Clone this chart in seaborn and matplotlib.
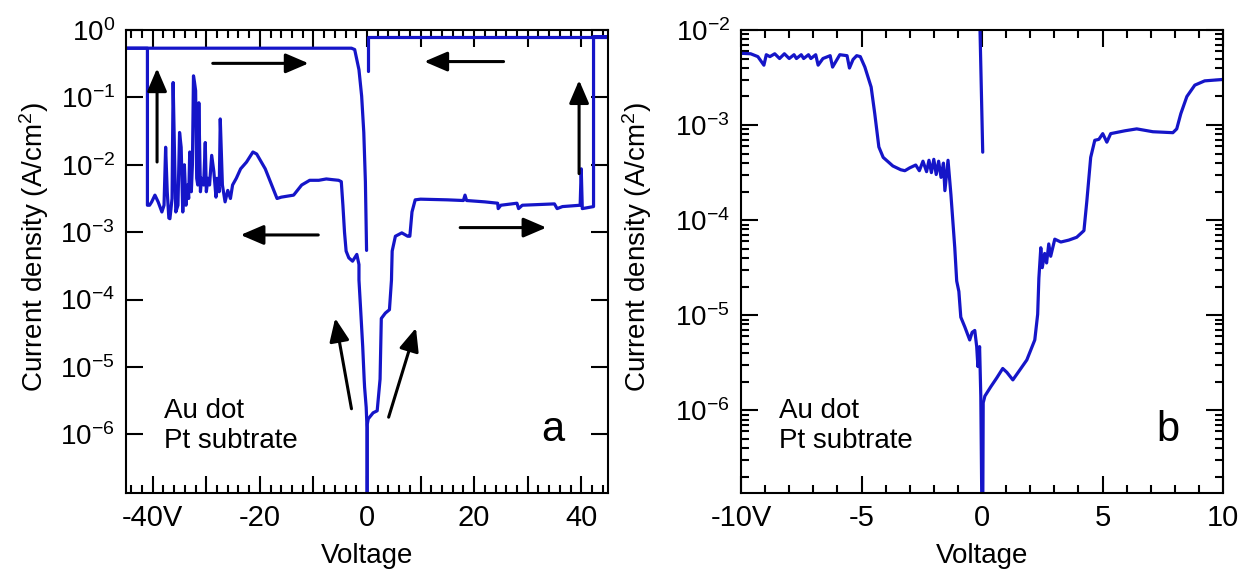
import numpy as np
import pandas as pd
import seaborn as sns
import matplotlib
matplotlib.use('Agg')
import matplotlib.pyplot as plt
from matplotlib.ticker import MultipleLocator, FixedLocator, FuncFormatter, NullLocator, LogLocator

# Panel a: voltage (V) and log10 of current density (A/cm^2)
a_neg_v = [0.0, 0.0, -0.15, -0.45, -0.53, -0.8, -1.15, -1.5, -1.5, -1.9, -2.7, -3.4, -3.9, -4.2, -4.5, -4.8,
           -5.3, -6.5, -7.6, -9.0, -10.7, -12.2, -13.7, -16.0, -16.8, -17.5, -19.0, -20.6, -21.3, -22.5, -23.6,
           -24.4, -25.1, -25.5, -26.0, -26.5, -27.0, -27.4, -27.6, -28.0, -28.2, -28.6, -29.0, -29.4, -29.7,
           -30.0, -30.2, -30.5, -30.9, -31.1, -31.4, -31.6, -31.8, -32.0, -32.2, -32.4, -32.6, -32.8, -33.1,
           -33.3, -33.5, -33.8, -34.1, -34.4, -34.7, -35.0, -35.3, -35.7, -35.9, -36.2, -36.4, -36.8, -37.0,
           -37.3, -37.6, -37.9, -38.3, -39.0, -39.6, -40.2, -40.6, -41.0, -41.0, -46.0]
a_neg_logj = [-7.2, -5.9, -5.6, -5.3, -5.18, -4.7, -4.2, -3.71, -3.48, -3.33, -3.43, -3.38, -3.28, -3.0, -2.6, -2.25,
              -2.23, -2.22, -2.21, -2.23, -2.23, -2.30, -2.45, -2.48, -2.50, -2.36, -2.06, -1.84, -1.81, -1.96, -2.06,
              -2.2, -2.30, -2.50, -2.38, -2.55, -2.3, -1.32, -2.4, -2.2, -2.48, -2.1, -1.86, -2.3, -2.2,
              -2.4, -1.67, -2.3, -2.2, -2.4, -1.08, -2.3, -2.2, -0.9, -0.78, -0.68, -2.0, -2.4, -1.81,
              -2.5, -2.3, -2.6, -2.0, -2.7, -1.74, -1.52, -2.6, -2.7, -2.0, -0.78, -2.5, -2.8, -2.79,
              -2.4, -1.74, -2.6, -2.7, -2.55, -2.45, -2.55, -2.6, -2.6, -0.27, -0.27]
a_ret_v = [-46.0, -2.9, -2.3, -1.5, -1.0, -0.6, -0.3, -0.08]
a_ret_logj = [-0.27, -0.27, -0.29, -0.59, -0.98, -1.52, -2.25, -3.27]
a_pos_v = [0.05, 0.05, 0.23, 1.14, 1.9, 2.44, 2.67, 3.43, 4.19, 4.57, 4.6, 4.7, 5.3, 6.5, 7.6, 8.0, 8.4, 9.0,
           10.0, 15.0, 18.0, 18.3, 18.6, 22.0, 24.4, 24.5, 25.0, 28.0, 28.3, 29.0, 35.0, 35.5, 36.5, 39.8,
           40.0, 40.2, 42.3, 42.3, 46.0]
a_pos_logj = [-7.2, -5.85, -5.77, -5.68, -5.65, -5.18, -4.28, -4.2, -4.15, -3.71, -3.6, -3.28, -3.06, -3.01,
              -3.06, -3.06, -2.70, -2.52, -2.51, -2.52, -2.53, -2.45, -2.53, -2.55, -2.57, -2.65, -2.60, -2.57,
              -2.65, -2.60, -2.58, -2.65, -2.62, -2.60, -2.06, -2.65, -2.62, -0.098, -0.098]
a_back_v = [46.0, 0.2, 0.2]
a_back_logj = [-0.098, -0.098, -0.61]

# Panel b
b_neg_v = [0.0, -0.05, -0.1, -0.17, -0.22, -0.3, -0.41, -0.51, -0.71, -0.88, -0.96, -1.05, -1.13, -1.29, -1.41,
           -1.54, -1.6, -1.7, -1.8, -1.9, -2.0, -2.1, -2.2, -2.3, -2.45, -2.6, -2.75, -3.0, -3.2, -3.37, -3.7,
           -4.1, -4.28, -4.45, -4.6, -4.86, -5.05, -5.2, -5.35, -5.5, -5.6, -5.9, -6.2, -6.3, -6.6, -6.8, -6.9,
           -7.1, -7.2, -7.4, -7.5, -7.7, -7.8, -8.0, -8.2, -8.4, -8.6, -8.8, -8.95, -9.05, -9.3, -9.6, -10.0]
b_neg_logj = [-7.2, -5.85, -5.33, -5.54, -5.33, -5.16, -5.18, -5.26, -5.125, -5.02, -4.75, -4.64, -4.29, -3.73,
              -3.37, -3.69, -3.40, -3.55, -3.38, -3.52, -3.36, -3.50, -3.37, -3.49, -3.38, -3.48, -3.42, -3.45,
              -3.48, -3.47, -3.43, -3.34, -3.23, -2.88, -2.60, -2.39, -2.28, -2.27, -2.31, -2.40, -2.27, -2.26,
              -2.39, -2.27, -2.30, -2.37, -2.26, -2.30, -2.26, -2.30, -2.26, -2.30, -2.26, -2.30, -2.25, -2.30,
              -2.25, -2.28, -2.26, -2.37, -2.28, -2.25, -2.245]
b_pos_v = [0.03, 0.05, 0.12, 0.37, 0.61, 0.86, 1.03, 1.28, 1.53, 1.86, 2.19, 2.31, 2.36, 2.44, 2.5, 2.6, 2.68,
           2.77, 2.85, 3.02, 3.27, 3.6, 3.93, 4.23, 4.35, 4.51, 4.68, 4.85, 5.01, 5.18, 5.34, 5.93, 6.42, 7.09,
           7.92, 8.08, 8.25, 8.5, 8.83, 9.24, 10.0]
b_pos_logj = [-7.2, -5.92, -5.85, -5.75, -5.66, -5.56, -5.60, -5.68, -5.59, -5.47, -5.26, -4.99, -4.61, -4.29,
              -4.50, -4.35, -4.45, -4.25, -4.38, -4.20, -4.23, -4.21, -4.18, -4.11, -3.80, -3.34, -3.16, -3.15,
              -3.09, -3.18, -3.09, -3.06, -3.04, -3.07, -3.08, -3.04, -2.88, -2.70, -2.58, -2.535, -2.52]
b_top_v = [-0.1, 0.03]
b_top_logj = [-1.8, -3.285]

# arrows in panel a: (tail V, tail J, head V, head J)
a_arrows = [(-39.2, 0.011, -39.2, 0.27), (-28.8, 0.32, -10.9, 0.32), (25.5, 0.34, 10.7, 0.34),
            (39.6, 7.4e-3, 39.6, 0.18), (-9.1, 9.1e-4, -23.6, 9.1e-4), (17.4, 1.17e-3, 33.5, 1.17e-3),
            (-2.9, 2.4e-6, -5.94, 5.3e-5), (4.04, 1.8e-6, 9.14, 3.8e-5)]

BLUE = '#1515c8'

sns.set_style('ticks')
plt.rcParams['font.family'] = ['Liberation Sans', 'DejaVu Sans']
plt.rcParams['mathtext.fontset'] = 'custom'
plt.rcParams['mathtext.rm'] = 'Liberation Sans'
plt.rcParams['mathtext.it'] = 'Liberation Sans:italic'
plt.rcParams['mathtext.default'] = 'regular'
plt.rcParams['axes.linewidth'] = 1.5
for key in ['text.color', 'axes.labelcolor', 'xtick.color', 'ytick.color', 'axes.edgecolor']:
    plt.rcParams[key] = 'black'


def make_frame(pairs):
    parts = []
    for i, (v, lj) in enumerate(pairs):
        parts.append(pd.DataFrame({'V': v, 'J': 10.0 ** np.array(lj), 'seg': i}))
    return pd.concat(parts, ignore_index=True)


def style_axis(ax, xlim, ylim, first_label, xmajor, xminor, label_step, ylog_minor):
    ax.set_yscale('log')
    ax.set_xlim(*xlim)
    ax.set_ylim(*ylim)
    ax.xaxis.set_major_locator(MultipleLocator(xmajor))
    ax.xaxis.set_minor_locator(MultipleLocator(xminor))

    def xfmt(v, pos):
        iv = int(round(v))
        if iv % label_step:
            return ''
        if iv == first_label:
            return f'{iv}V'
        return f'{iv}'
    ax.xaxis.set_major_formatter(FuncFormatter(xfmt))
    decades = [10.0 ** k for k in range(-6, 1) if ylim[0] <= 10.0 ** k <= ylim[1]]
    ax.yaxis.set_major_locator(FixedLocator(decades))
    ax.yaxis.set_major_formatter(FuncFormatter(lambda y, p: r'$10^{%d}$' % int(round(np.log10(y)))))
    if ylog_minor:
        ax.yaxis.set_minor_locator(LogLocator(base=10, subs=np.arange(2, 10), numticks=20))
    else:
        ax.yaxis.set_minor_locator(NullLocator())
    ax.tick_params(which='both', direction='in', top=True, right=True, width=1.5, pad=8)
    ax.tick_params(axis='x', labelsize=21)
    ax.tick_params(axis='y', labelsize=20)
    ax.tick_params(which='major', length=12)
    ax.tick_params(which='minor', length=6)
    ax.set_xlabel('Voltage', fontsize=20, labelpad=8)
    ax.set_ylabel('Current density (A/cm$^2$)', fontsize=20)
    for s in ax.spines.values():
        s.set_linewidth(1.5)


fig = plt.figure(figsize=(12.48, 5.76), dpi=100)
ax_a = fig.add_axes([126 / 1248, 83 / 576, 482 / 1248, 463 / 576])
ax_b = fig.add_axes([741 / 1248, 83 / 576, 482 / 1248, 463 / 576])

df_a = make_frame([(a_neg_v, a_neg_logj), (a_ret_v, a_ret_logj), (a_pos_v, a_pos_logj), (a_back_v, a_back_logj)])
sns.lineplot(data=df_a, x='V', y='J', units='seg', estimator=None, sort=False, color=BLUE, lw=2.3,
             ax=ax_a, legend=False)
style_axis(ax_a, (-45, 45), (1.35e-7, 1.0), -40, 10, 2, 20, False)
for tv, tj, hv, hj in a_arrows:
    ax_a.annotate('', xy=(hv, hj), xytext=(tv, tj),
                  arrowprops=dict(arrowstyle='-|>,head_length=0.7,head_width=0.3', color='black', lw=2.2,
                                  shrinkA=0, shrinkB=0, mutation_scale=20))

df_b = make_frame([(b_neg_v, b_neg_logj), (b_pos_v, b_pos_logj), (b_top_v, b_top_logj)])
sns.lineplot(data=df_b, x='V', y='J', units='seg', estimator=None, sort=False, color=BLUE, lw=2.3,
             ax=ax_b, legend=False)
style_axis(ax_b, (-10, 10), (1.35e-7, 1e-2), -10, 5, 1, 5, True)

for ax, tag in [(ax_a, 'a'), (ax_b, 'b')]:
    ax.text(0.078, 0.205, 'Au dot\nPt subtrate', transform=ax.transAxes, ha='left', va='top', fontsize=20,
            linespacing=1.2)
    ax.text(0.885, 0.135, tag, transform=ax.transAxes, ha='center', va='center', fontsize=30)

ax_a.yaxis.set_label_coords(-0.155, 0.53)
ax_b.yaxis.set_label_coords(-0.18, 0.53)

fig.savefig('out.png', dpi=100)
